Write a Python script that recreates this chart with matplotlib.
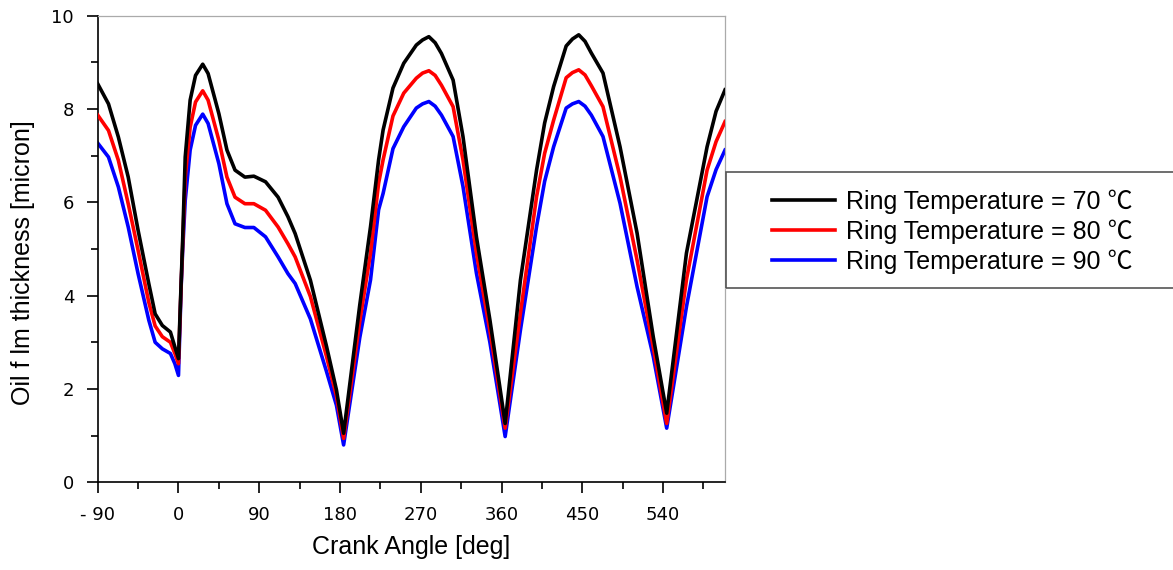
import matplotlib
matplotlib.use("Agg")
import matplotlib.pyplot as plt
from matplotlib.ticker import MultipleLocator
from matplotlib.patches import Rectangle

# crank angle [deg] and oil film thickness [micron]
angle = [-90, -78, -67, -56, -45, -33, -26, -18, -9, -4, 0, 3, 4.5, 7.5, 13, 19, 27, 33, 45, 54,
         63, 74, 84, 97, 111, 122, 130, 147, 165, 176, 184, 202, 214, 223, 228, 239, 251,
         265, 272, 279, 286, 293, 306, 317, 332, 347, 358, 364, 381, 399, 408, 418, 432,
         439, 446, 453, 460, 473, 492, 511, 529, 544, 566, 589, 599, 609]

h70 = [8.54, 8.11, 7.40, 6.54, 5.40, 4.25, 3.61, 3.36, 3.22, 2.9, 2.65, 4.3, 5.1, 6.97, 8.19,
       8.72, 8.96, 8.76, 7.90, 7.12, 6.69, 6.54, 6.56, 6.44, 6.11, 5.69, 5.33, 4.33, 2.91,
       1.98, 1.05, 3.8, 5.48, 6.91, 7.55, 8.45, 8.98, 9.37, 9.48, 9.55, 9.42, 9.19, 8.62,
       7.41, 5.26, 3.48, 2.05, 1.26, 4.33, 6.69, 7.7, 8.48, 9.35, 9.5, 9.59, 9.45, 9.2,
       8.77, 7.19, 5.34, 3.12, 1.48, 4.91, 7.19, 7.95, 8.41]

h80 = [7.87, 7.54, 6.90, 5.97, 4.97, 3.85, 3.35, 3.12, 3.0, 2.76, 2.54, 4.25, 5.0, 6.54, 7.61,
       8.15, 8.39, 8.19, 7.33, 6.54, 6.11, 5.97, 5.97, 5.83, 5.47, 5.11, 4.83, 3.98, 2.69,
       1.85, 0.94, 3.45, 4.91, 6.41, 6.91, 7.85, 8.34, 8.66, 8.77, 8.82, 8.72, 8.51, 8.05,
       6.91, 4.91, 3.25, 1.9, 1.16, 3.62, 6.12, 7.05, 7.76, 8.67, 8.78, 8.84, 8.73, 8.5,
       8.05, 6.55, 4.76, 2.9, 1.26, 4.34, 6.69, 7.3, 7.73]

h90 = [7.27, 6.97, 6.33, 5.47, 4.47, 3.47, 3.0, 2.86, 2.76, 2.54, 2.29, 4.2, 4.9, 6.04, 7.12,
       7.65, 7.89, 7.69, 6.83, 5.97, 5.54, 5.46, 5.46, 5.26, 4.83, 4.47, 4.26, 3.5, 2.37,
       1.65, 0.8, 3.1, 4.34, 5.84, 6.19, 7.15, 7.62, 8.02, 8.11, 8.16, 8.06, 7.87, 7.41,
       6.34, 4.48, 3.0, 1.7, 0.98, 3.26, 5.48, 6.45, 7.19, 8.02, 8.11, 8.16, 8.06, 7.87,
       7.41, 5.98, 4.19, 2.7, 1.16, 3.76, 6.12, 6.7, 7.12]

labels = ["Ring Temperature = 70 \u2103", "Ring Temperature = 80 \u2103", "Ring Temperature = 90 \u2103"]
xticklabels = ["- 90", "0", "90", "180", "270", "360", "450", "540"]

fig = plt.figure(figsize=(11.73, 5.70), dpi=100)
ax = fig.add_axes([0.0833, 0.1539, 0.5348, 0.8186])

ax.plot(angle, h70, color="black", lw=2.6, label=labels[0], zorder=4, solid_joinstyle="round")
ax.plot(angle, h80, color="red", lw=2.6, label=labels[1], zorder=3, solid_joinstyle="round")
ax.plot(angle, h90, color="blue", lw=2.6, label=labels[2], zorder=2, solid_joinstyle="round")

ax.set_xlim(-90, 609)
ax.set_ylim(0, 10)
ax.xaxis.set_minor_locator(MultipleLocator(45))
ax.yaxis.set_major_locator(MultipleLocator(2))
ax.yaxis.set_minor_locator(MultipleLocator(1))
ax.set_xticks(range(-90, 541, 90))
ax.set_xticklabels(xticklabels)

ax.tick_params(which="major", direction="out", length=8, width=1.2, labelsize=13, color="black")
ax.tick_params(which="minor", direction="out", length=5, width=1.2, color="black")
ax.tick_params(axis="x", which="major", pad=9)
ax.tick_params(axis="y", which="major", pad=9)

for s in ["left", "bottom"]:
    ax.spines[s].set_color("black")
    ax.spines[s].set_linewidth(1.2)
for s in ["top", "right"]:
    ax.spines[s].set_color("#aaaaaa")
    ax.spines[s].set_linewidth(0.9)

lab_font = ["Liberation Sans", "DejaVu Sans"]
ax.set_xlabel("Crank Angle [deg]", fontsize=18, family=lab_font, labelpad=8)
ax.set_ylabel("Oil f lm thickness [micron]", fontsize=18, family=lab_font)
ax.yaxis.set_label_coords(-0.10, 0.47)

leg = ax.legend(loc="upper left", bbox_to_anchor=(759.7 / 1173, 1 - 177 / 570),
                bbox_transform=fig.transFigure, frameon=False, borderpad=0,
                handlelength=2.5, handletextpad=0.45, labelspacing=0.22,
                prop={"family": ["Liberation Sans", "Noto Sans CJK KR"], "size": 18})
for ln in leg.get_lines():
    ln.set_linewidth(2.6)

fig.add_artist(Rectangle((726 / 1173, 1 - 288 / 570), 0.45, 116 / 570, transform=fig.transFigure,
                         fill=False, edgecolor="#555555", linewidth=1.2))

fig.savefig("out.png", dpi=100)
